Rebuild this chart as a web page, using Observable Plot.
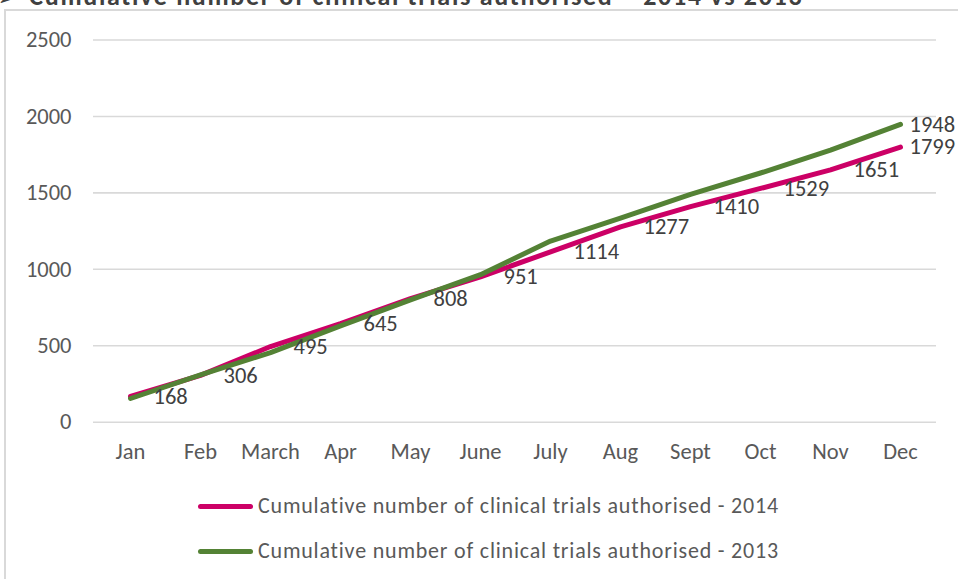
<!DOCTYPE html>
<html>
<head>
<meta charset="utf-8">
<script src="https://cdn.jsdelivr.net/npm/d3@7"></script>
<script src="https://cdn.jsdelivr.net/npm/@observablehq/plot@0.6"></script>
<style>
  html, body { margin: 0; padding: 0; background: #fff; overflow: hidden; }
  body { width: 958px; height: 579px; position: relative; font-family: Calibri, Carlito, Lato, sans-serif; }
  #title { position: absolute; left: -2px; top: -17px; font-size: 26px; line-height: 26px; letter-spacing: 1.7px; font-weight: bold; color: #404040; white-space: nowrap; }
  #frame { position: absolute; left: 4px; top: 9px; width: 970px; height: 600px; border: 2px solid #d9d9d9; box-sizing: border-box; }
  #chart { position: absolute; left: 0; top: 0; }
  .leg { position: absolute; left: 198px; font-size: 22px; line-height: 22px; letter-spacing: 0.8px; color: #595959; white-space: nowrap; display: flex; align-items: center; }
  .leg .sw { width: 55px; height: 5px; border-radius: 3px; margin-right: 5px; }
</style>
</head>
<body>
<div id="title">&#10146; Cumulative number of clinical trials authorised – 2014 vs 2013</div>
<div id="frame"></div>
<div id="chart"></div>
<div class="leg" style="top:495px"><span class="sw" style="background:#CC0066"></span><span>Cumulative number of clinical trials authorised - 2014</span></div>
<div class="leg" style="top:540px"><span class="sw" style="background:#548235"></span><span>Cumulative number of clinical trials authorised - 2013</span></div>
<script>
const months = ["Jan","Feb","March","Apr","May","June","July","Aug","Sept","Oct","Nov","Dec"];
const trials2014 = [168,306,495,645,808,951,1114,1277,1410,1529,1651,1799];
const trials2013 = [155,310,455,630,800,965,1185,1335,1490,1630,1780,1948];
const yTicks = [0,500,1000,1500,2000,2500];

const pink = "#CC0066";
const green = "#548235";

const rows2014 = months.map((m, i) => ({month: m, value: trials2014[i]}));
const rows2013 = months.map((m, i) => ({month: m, value: trials2013[i]}));
const lastIdx = months.length - 1;
const labelsMain = rows2014.slice(0, lastIdx);
const labelsEnd = [rows2014[lastIdx], rows2013[lastIdx]];

const fontFamily = "Calibri, Carlito, Lato, sans-serif";

const chart = Plot.plot({
  width: 958,
  height: 480,
  marginTop: 39.5,
  marginBottom: 58.3,
  marginLeft: 93,
  marginRight: 22,
  style: {fontFamily, fontSize: "22.5px", color: "#595959", background: "transparent", overflow: "visible"},
  x: {type: "point", domain: months, padding: 0.5, align: 0.5, label: null},
  y: {domain: [0, 2500], label: null},
  marks: [
    Plot.ruleY(yTicks, {stroke: "#d9d9d9", strokeWidth: 1.6}),
    Plot.axisY({ticks: yTicks, tickSize: 0, tickPadding: 22, tickFormat: d => String(d), label: null, fill: "#595959"}),
    Plot.axisX({tickSize: 0, tickPadding: 21, label: null, fill: "#595959"}),
    Plot.line(rows2014, {x: "month", y: "value", stroke: pink, strokeWidth: 5, strokeLinecap: "round", strokeLinejoin: "round"}),
    Plot.line(rows2013, {x: "month", y: "value", stroke: green, strokeWidth: 5, strokeLinecap: "round", strokeLinejoin: "round"}),
    Plot.text(labelsMain, {x: "month", y: "value", text: d => String(d.value), dx: 23, textAnchor: "start", fill: "#404040"}),
    Plot.text(labelsEnd, {x: "month", y: "value", text: d => String(d.value), dx: 9, textAnchor: "start", fill: "#404040"})
  ]
});
document.getElementById("chart").appendChild(chart);
</script>
</body>
</html>
